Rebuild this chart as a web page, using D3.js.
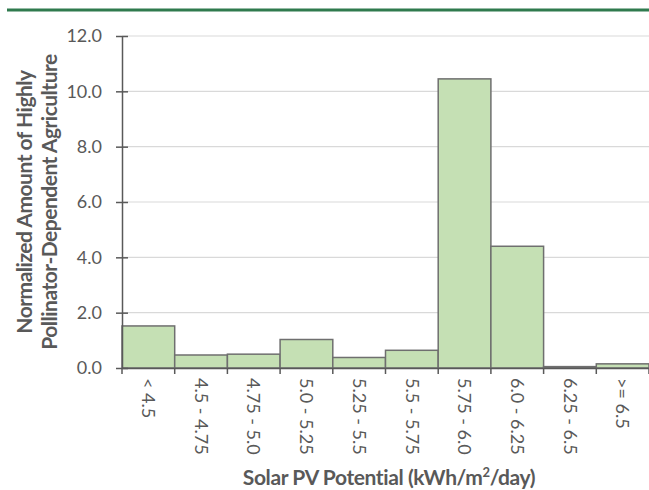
<!DOCTYPE html>
<html>
<head>
<meta charset="utf-8">
<script src="https://cdn.jsdelivr.net/npm/d3@7"></script>
<style>
  body { margin: 0; background: #fff; }
  text { font-family: Lato, "Open Sans", sans-serif; }
</style>
</head>
<body>
<div class="canvas"></div>
<script>
// Data
const categories = ["< 4.5", "4.5 - 4.75", "4.75 - 5.0", "5.0 - 5.25", "5.25 - 5.5",
                    "5.5 - 5.75", "5.75 - 6.0", "6.0 - 6.25", "6.25 - 6.5", ">= 6.5"];
const values = [1.52, 0.47, 0.5, 1.03, 0.38, 0.64, 10.45, 4.4, 0.05, 0.15];
const yTicks = [0, 2, 4, 6, 8, 10, 12];

const width = 649, height = 490;
const margin = { top: 36, right: 0, bottom: 122, left: 122 };

const svg = d3.select(".canvas")
    .append("svg")
    .attr("width", width)
    .attr("height", height);

// Green rule at top
svg.append("line")
    .attr("x1", 7).attr("x2", width)
    .attr("y1", 10).attr("y2", 10)
    .style("stroke", "#2f7a4e")
    .style("stroke-width", 3);

const x = d3.scaleBand()
    .domain(categories)
    .range([margin.left, width - margin.right])
    .padding(0);

const y = d3.scaleLinear()
    .domain([0, 12])
    .range([height - margin.bottom, margin.top]);

// Gridlines
svg.append("g")
    .selectAll("line")
    .data(yTicks.filter(d => d > 0))
    .enter().append("line")
    .attr("x1", margin.left).attr("x2", width)
    .attr("y1", d => y(d)).attr("y2", d => y(d))
    .style("stroke", "#d9d9d9")
    .style("stroke-width", 1.2);

// Bars
svg.append("g")
    .selectAll("rect")
    .data(values)
    .enter().append("rect")
    .attr("x", (d, i) => x(categories[i]))
    .attr("y", d => y(d))
    .attr("width", x.bandwidth())
    .attr("height", d => y(0) - y(d))
    .style("fill", "#c5e0b4")
    .style("stroke", "#6f6f6f")
    .style("stroke-width", 1.5);

// Y axis
const yAxis = svg.append("g")
    .attr("transform", `translate(${margin.left},0)`)
    .call(d3.axisLeft(y).tickValues(yTicks).tickFormat(d3.format(".1f")).tickSizeInner(6).tickSizeOuter(0));
yAxis.select(".domain").style("stroke", "#595959").style("stroke-width", 1.5);
yAxis.selectAll(".tick line")
    .attr("x1", 6).attr("x2", -6)
    .style("stroke", "#595959").style("stroke-width", 1.5);
yAxis.selectAll(".tick text")
    .attr("x", -20)
    .style("font-size", "18px")
    .style("fill", "#595959");

// X axis
const xAxis = svg.append("g")
    .attr("transform", `translate(0,${y(0)})`)
    .call(d3.axisBottom(x).tickSize(0).tickSizeOuter(0));
xAxis.select(".domain").style("stroke", "#595959").style("stroke-width", 1.5);
xAxis.selectAll(".tick line").remove();
xAxis.selectAll(".tick text")
    .attr("transform", "rotate(90)")
    .attr("x", 10)
    .attr("y", 0)
    .attr("dy", "0.35em")
    .style("text-anchor", "start")
    .style("font-size", "18px")
    .style("fill", "#595959");

// Boundary tick marks below x axis
const bounds = categories.map(c => x(c)).concat([x.range()[1]]);
svg.append("g")
    .selectAll("line")
    .data(bounds)
    .enter().append("line")
    .attr("x1", d => d).attr("x2", d => d)
    .attr("y1", y(0)).attr("y2", y(0) + 6)
    .style("stroke", "#595959")
    .style("stroke-width", 1.5);

// Axis titles
const yTitle = svg.append("text")
    .attr("transform", `translate(32,${(margin.top + y(0)) / 2}) rotate(-90)`)
    .style("text-anchor", "middle")
    .style("font-size", "21px")
    .style("letter-spacing", "-0.5px")
    .style("font-weight", "bold")
    .style("fill", "#595959");
yTitle.append("tspan").attr("x", 0).attr("dy", 0).text("Normalized Amount of Highly");
yTitle.append("tspan").attr("x", 0).attr("dy", 25).text("Pollinator-Dependent Agriculture");

const xTitle = svg.append("text")
    .attr("x", 389)
    .attr("y", 485)
    .style("text-anchor", "middle")
    .style("font-size", "21px")
    .style("letter-spacing", "-0.4px")
    .style("font-weight", "bold")
    .style("fill", "#595959");
xTitle.append("tspan").text("Solar PV Potential (kWh/m");
xTitle.append("tspan").attr("baseline-shift", "super").style("font-size", "13px").text("2");
xTitle.append("tspan").text("/day)");
</script>
</body>
</html>
